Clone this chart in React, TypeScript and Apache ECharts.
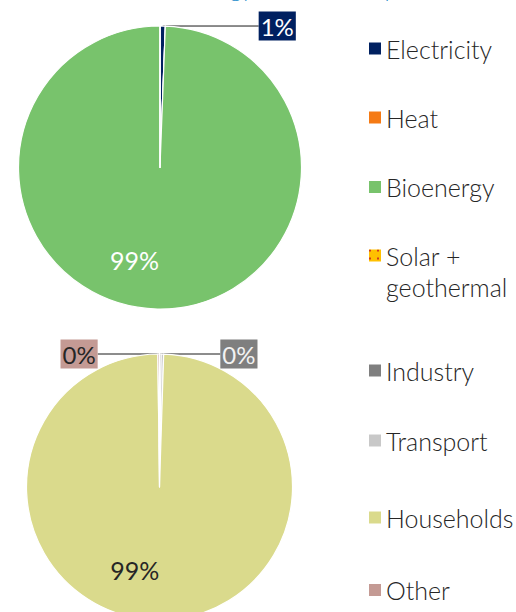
import React, { useEffect, useRef } from "react";
import * as echarts from "echarts";

const titleText = "Energy and consumption";

const supplyNames = ["Electricity", "Heat", "Bioenergy", "Solar + geothermal"];
const supplyValues = [0.6, 0, 99.4, 0];
const supplyColors = ["#002060", "#F57A14", "#78C36C", "#FFC000"];

const useNames = ["Industry", "Transport", "Households", "Other"];
const useValues = [0.2, 0.3, 99.3, 0.2];
const useColors = ["#7F7F7F", "#C8C8C8", "#DADA8C", "#C49A94"];

const FONT = "Lato";

const pct = (p: any) => Math.round(p.percent) + "%";

export default function App() {
  const ref = useRef<HTMLDivElement>(null);
  useEffect(() => {
    if (!ref.current) return;
    const chart = echarts.init(ref.current, undefined, { renderer: "svg" });

    const boxLabel = (bg: string, color: string) => ({
      show: true,
      position: "outside",
      backgroundColor: bg,
      color,
      fontSize: 24,
      fontFamily: FONT,
      fontWeight: 400,
      lineHeight: 24,
      padding: [3, 2, 2, 2],
      distanceToLabelLine: 0,
    });
    const noLabel = { label: { show: false }, labelLine: { show: false } };
    const lineStyle = { color: "#1A1A1A", width: 1 };

    const supplyData = supplyNames.map((name, i) => {
      const base: any = { name, value: supplyValues[i], itemStyle: { color: supplyColors[i] } };
      if (i === 0) {
        base.label = boxLabel("#002060", "#FFFFFF");
        base.labelLine = { show: true, length: 0, length2: 96, lineStyle };
      } else if (i === 2) {
        base.label = { show: true, position: "inside", color: "#FFFFFF", fontSize: 25, fontFamily: FONT };
        base.labelLine = { show: false };
      } else Object.assign(base, noLabel);
      if (i === 3) {
        base.itemStyle.decal = {
          symbol: "rect",
          symbolSize: 1,
          color: "#D03A1E",
          dashArrayX: [[2, 6]],
          dashArrayY: [2, 6],
        };
      }
      return base;
    });

    const useData = useNames.map((name, i) => {
      const base: any = { name, value: useValues[i], itemStyle: { color: useColors[i] } };
      if (i === 0) {
        base.label = boxLabel("#7F7F7F", "#F2F2F2");
        base.labelLine = { show: true, length: 0, length2: 60, lineStyle };
      } else if (i === 3) {
        base.label = boxLabel("#C49A94", "#262626");
        base.labelLine = { show: true, length: 0, length2: 61, lineStyle };
      } else if (i === 2) {
        base.label = { show: true, position: "inside", color: "#262626", fontSize: 25, fontFamily: FONT };
        base.labelLine = { show: false };
      } else Object.assign(base, noLabel);
      return base;
    });

    const allNames = [...supplyNames, ...useNames];
    const legendCenters = [48, 117, 186.5, 255.5, 370, 440, 517, 589.5];
    const legends = allNames.map((name, i) => {
      const multi = name === "Solar + geothermal";
      return {
        left: 369,
        top: multi ? legendCenters[i] - 46.5 : legendCenters[i] - 12,
        padding: 0,
        itemWidth: 12,
        itemHeight: 12,
        icon: "rect",
        selectedMode: false,
        data: [name],
        formatter: multi ? "\nSolar +\ngeothermal" : "{name}",
        itemStyle: { borderWidth: 0 },
        textStyle: multi
          ? { fontSize: 25, fontFamily: FONT, fontWeight: 300, color: "#262626", lineHeight: 31 }
          : { fontSize: 25, fontFamily: FONT, fontWeight: 300, color: "#262626", lineHeight: 24 },
      };
    });

    chart.setOption({
      animation: false,
      title: {
        text: titleText,
        left: 182,
        top: -25,
        padding: 0,
        textStyle: { fontSize: 24, fontFamily: FONT, fontWeight: 300, color: "#1F8DCB" },
      },
      legend: legends,
      series: [
        {
          type: "pie",
          center: [160, 167.5],
          radius: 141.5,
          startAngle: 90,
          clockwise: true,
          avoidLabelOverlap: false,
          itemStyle: { borderColor: "#FFFFFF", borderWidth: 1.2 },
          label: { formatter: pct },
          labelLayout: (p: any) => (p.dataIndex === 2 ? { dx: -24, dy: 19 } : {}),
          emphasis: { disabled: true },
          data: supplyData,
        },
        {
          type: "pie",
          center: [159.5, 487],
          radius: 133,
          startAngle: 90,
          clockwise: true,
          avoidLabelOverlap: false,
          itemStyle: { borderColor: "#FFFFFF", borderWidth: 1.2 },
          label: { formatter: pct },
          labelLayout: (p: any) => (p.dataIndex === 2 ? { dx: -24, dy: 13.5 } : {}),
          emphasis: { disabled: true },
          data: useData,
        },
      ],
    });
    return () => chart.dispose();
  }, []);
  return (
    <div
      ref={ref}
      style={{ position: "absolute", left: 0, top: 0, width: 516, height: 612, background: "#FFFFFF" }}
    />
  );
}
